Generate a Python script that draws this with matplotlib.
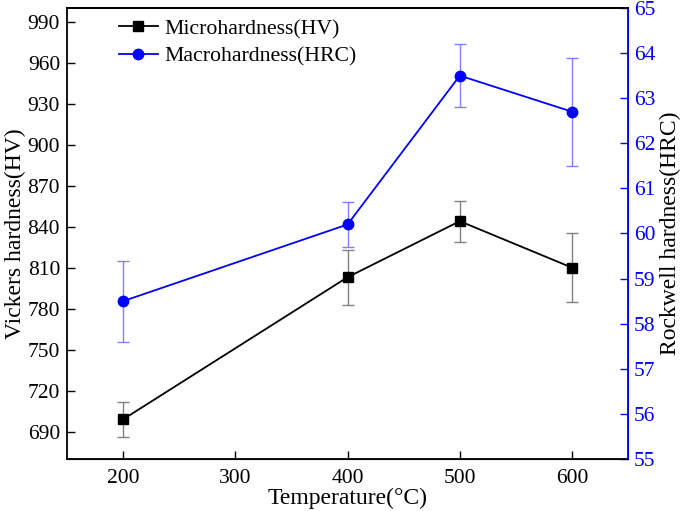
import matplotlib
matplotlib.use("Agg")
import matplotlib.pyplot as plt
from matplotlib.lines import Line2D

temperature = [200, 400, 500, 600]
hv = [699, 803, 844, 810]
hv_err = [13, 20, 15, 25]
hrc = [58.5, 60.2, 63.5, 62.7]
hrc_err = [0.9, 0.5, 0.7, 1.2]
left_ticks = [690, 720, 750, 780, 810, 840, 870, 900, 930, 960, 990]
right_ticks = [55, 56, 57, 58, 59, 60, 61, 62, 63, 64, 65]
x_ticks = [200, 300, 400, 500, 600]

plt.rcParams['font.family'] = ['Liberation Serif', 'DejaVu Serif']

fig = plt.figure(figsize=(6.85, 5.11), dpi=100)
ax = fig.add_axes([0.0978, 0.1018, 0.8192, 0.8826])
ax2 = ax.twinx()

blue = '#0000ff'
ax.errorbar(temperature, hv, yerr=hv_err, color='black', marker='s', markersize=6.5,
            lw=1.3, ecolor='#808080', elinewidth=1.0, capsize=4, capthick=1.0)
ax2.errorbar(temperature, hrc, yerr=hrc_err, color=blue, marker='o', markersize=7.5,
             lw=1.3, ecolor='#8080ff', elinewidth=1.0, capsize=4, capthick=1.0)

ax.set_xlim(150, 650)
ax.set_ylim(670, 1000)
ax2.set_ylim(55, 65)
ax.set_xticks(x_ticks)
ax.set_yticks(left_ticks)
ax2.set_yticks(right_ticks)

ax.tick_params(axis='both', direction='in', length=6, width=1, labelsize=15.5, pad=5)
ax.tick_params(axis='x', pad=7)
ax2.tick_params(axis='y', direction='in', length=6, width=1, labelsize=15.5, colors=blue, pad=4)
for s in ['left', 'bottom', 'top']:
    ax.spines[s].set_linewidth(1.3)
ax2.spines['right'].set_color(blue)
ax2.spines['right'].set_linewidth(1.3)
ax2.spines['left'].set_visible(False)
ax2.spines['top'].set_linewidth(1.3)

ax.set_xlabel('Temperature(°C)', fontsize=17, labelpad=0)
ax.set_ylabel('Vickers hardness(HV)', fontsize=17, labelpad=1)
ax2.set_ylabel('Rockwell hardness(HRC)', fontsize=17, labelpad=3, color='black')

handles = [Line2D([], [], color='black', marker='s', markersize=6.5, lw=1.3),
           Line2D([], [], color=blue, marker='o', markersize=7.5, lw=1.3)]
labels = ['Microhardness(HV)', 'Macrohardness(HRC)']
ax.legend(handles, labels, loc='upper left', bbox_to_anchor=(0.07, 1.005), frameon=False,
          fontsize=15.7, handlelength=1.75, handletextpad=0.3, borderaxespad=0.2,
          labelspacing=0.35)

fig.savefig('out.png', dpi=100)
